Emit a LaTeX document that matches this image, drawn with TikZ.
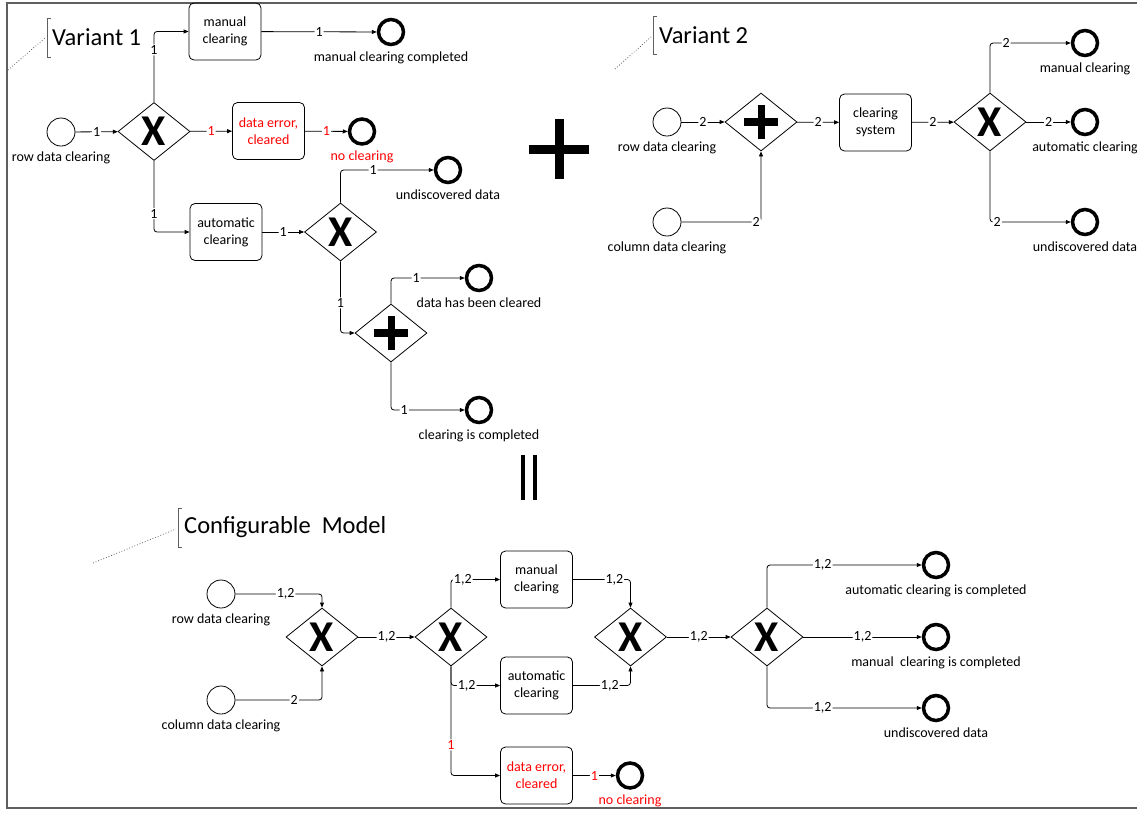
\documentclass[tikz,border=0pt]{standalone}
\usepackage{fontspec}
\setmainfont{Carlito}
\usetikzlibrary{shapes.geometric,arrows.meta}
\newcommand\smallfnt{\fontsize{14}{17}\selectfont}
\newcommand\titlefnt{\fontsize{24.5}{28}\selectfont}
\newcommand\gwfnt{\fontsize{44}{44}\selectfont\bfseries}
\definecolor{errred}{RGB}{255,0,0}
\definecolor{framegray}{RGB}{95,95,95}
\begin{document}
\begin{tikzpicture}[x=1pt,y=-1pt,
  font=\smallfnt,
  task/.style={draw, rounded corners=5pt, minimum width=72pt, minimum height=57pt, align=center, inner sep=1pt, line width=0.8pt},
  errtask/.style={task, text=errred},
  startev/.style={draw, circle, minimum size=28pt, inner sep=0pt, line width=0.8pt},
  endev/.style={draw, circle, minimum size=25pt, inner sep=0pt, line width=3.5pt},
  gw/.style={draw, diamond, minimum width=72pt, minimum height=58pt, inner sep=0pt, line width=0.8pt},
  xgw/.style={gw, label={[font=\gwfnt, inner sep=0pt]center:X}},
  pgw/.style={gw, path picture={
      \draw[line width=8pt] ([xshift=-17pt]path picture bounding box.center) -- ([xshift=17pt]path picture bounding box.center);
      \draw[line width=7pt] ([yshift=-17pt]path picture bounding box.center) -- ([yshift=17pt]path picture bounding box.center);}},
  flow/.style={draw, line width=0.8pt, rounded corners=3pt, -{Triangle[length=5pt,width=4pt]}},
  el/.style={fill=white, inner sep=1pt, font=\smallfnt},
  errel/.style={el, text=errred},
  evlbl/.style={font=\smallfnt, inner sep=0pt, label distance=5pt},
  title/.style={font=\titlefnt, anchor=west, inner sep=0pt},
  brack/.style={draw=framegray, line width=1pt},
  dots/.style={draw=framegray, dotted, line width=0.8pt}
]
\useasboundingbox (0,0) rectangle (1137,812);
\draw[framegray, line width=1.2pt] (1145,3) -- (7,3) -- (7,808) -- (1145,808);

% ---------------- Variant 1 ----------------
\draw[brack] (51,18) -- (47,18) -- (47,57) -- (51,57);
\node[title] (v1title) at (52,37) {Variant 1};
\draw[dots] (8,70) -- (45,38);

\node[startev, label={[evlbl]below:row data clearing}] (a1) at (61,132) {};
\node[xgw] (ag1) at (154,131.5) {};
\node[task] (amc) at (225,31.5) {manual\\clearing};
\node[endev, label={[evlbl]below:manual clearing completed}] (ae1) at (391,32) {};
\node[errtask] (ade) at (268.5,131) {data error,\\cleared};
\node[endev, label={[evlbl, text=errred]below:no clearing}] (ae2) at (362,131.5) {};
\node[task] (aac) at (226,232) {automatic\\clearing};
\node[xgw] (ag2) at (340.5,232) {};
\node[endev, label={[evlbl]below:undiscovered data}] (ae3) at (448,170) {};
\node[pgw] (ag3) at (391,333) {};
\node[endev, label={[evlbl]below:data has been cleared}] (ae4) at (479,278) {};
\node[endev, label={[evlbl]below:clearing is completed}] (ae5) at (479,410) {};

\draw[flow] (a1) -- node[el]{1} (ag1);
\draw[flow] (ag1.north) |- node[el, pos=0.37]{1} (amc.west);
\draw[flow] (amc) -- node[el]{1} (ae1);
\draw[flow] (ag1) -- node[errel]{1} (ade);
\draw[flow] (ade) -- node[errel]{1} (ae2);
\draw[flow] (ag1.south) |- node[el, pos=0.37]{1} (aac.west);
\draw[flow] (aac) -- node[el]{1} (ag2);
\draw[flow] (ag2.north) |- node[el, pos=0.675]{1} (ae3);
\draw[flow] (ag2.south) |- node[el, pos=0.29]{1} (ag3.west);
\draw[flow] (ag3.north) |- node[el, pos=0.67]{1} (ae4);
\draw[flow] (ag3.south) |- node[el, pos=0.59]{1} (ae5);

% big plus and equals bars
\fill (529,144.5) rectangle (589,153.5);
\fill (554.5,119) rectangle (563.5,179);
\fill (521,455) rectangle (525.3,500);
\fill (533,455) rectangle (537.3,500);

% ---------------- Variant 2 ----------------
\draw[brack] (657,16) -- (653,16) -- (653,54) -- (657,54);
\node[title] (v2title) at (659,35) {Variant 2};
\draw[dots] (615,69) -- (651,37);

\node[startev, label={[evlbl]below:row data clearing}] (b1) at (667,122) {};
\node[startev, label={[evlbl]below:column data clearing}] (b2) at (667,222) {};
\node[pgw] (bg1) at (761,122) {};
\node[task] (bcs) at (875.5,122.5) {clearing\\system};
\node[xgw] (bg2) at (990,122) {};
\node[endev, label={[evlbl]below:manual clearing}] (be1) at (1085,43) {};
\node[endev, label={[evlbl]below:automatic clearing}] (be2) at (1085,122) {};
\node[endev, label={[evlbl]below:undiscovered data}] (be3) at (1085,222) {};

\draw[flow] (b1) -- node[el]{2} (bg1);
\draw[flow] (b2) -| node[el, pos=0.47]{2} (bg1.south);
\draw[flow] (bg1) -- node[el]{2} (bcs);
\draw[flow] (bcs) -- node[el]{2} (bg2);
\draw[flow] (bg2.north) |- node[el, pos=0.6]{2} (be1);
\draw[flow] (bg2) -- node[el]{2} (be2);
\draw[flow] (bg2.south) |- node[el, pos=0.545]{2} (be3);

% ---------------- Configurable Model ----------------
\draw[brack] (182,508) -- (178,508) -- (178,547) -- (182,547);
\node[title] (cmtitle) at (184,527) {Configurable~ Model};
\draw[dots] (93,563) -- (176,529);

\node[startev, label={[evlbl]below:row data clearing}] (c1) at (221,594) {};
\node[startev, label={[evlbl]below:column data clearing}] (c2) at (221,700) {};
\node[xgw] (cg1) at (322,637) {};
\node[xgw] (cg2) at (451,637) {};
\node[task] (cmc) at (536.5,579.5) {manual\\clearing};
\node[task] (cac) at (536.5,685.5) {automatic\\clearing};
\node[errtask] (cde) at (536.5,775.5) {data error,\\cleared};
\node[endev, label={[evlbl, text=errred]below:no clearing}] (ce0) at (630,775.5) {};
\node[xgw] (cg3) at (630.5,637) {};
\node[xgw] (cg4) at (767,637) {};
\node[endev, label={[evlbl]below:automatic clearing is completed}] (ce1) at (936,565) {};
\node[endev, label={[evlbl]below:manual~ clearing is completed}] (ce2) at (936,637) {};
\node[endev, label={[evlbl]below:undiscovered data}] (ce3) at (936,708) {};

\draw[flow] (c1) -| node[el, pos=0.29]{1,2} (cg1.north);
\draw[flow] (c2) -| node[el, pos=0.34]{2} (cg1.south);
\draw[flow] (cg1) -- node[el]{1,2} (cg2);
\draw[flow] (cg2.north) |- node[el, pos=0.62]{1,2} (cmc.west);
\draw[flow] (cg2.south) |- node[errel, pos=0.36]{1} (cde.west);
\draw[flow] (cg2.south) |- node[el, pos=0.66]{1,2} (cac.west);
\draw[flow] (cde) -- node[errel]{1} (ce0);
\draw[flow] (cmc.east) -| node[el, pos=0.36]{1,2} (cg3.north);
\draw[flow] (cac.east) -| node[el, pos=0.32]{1,2} (cg3.south);
\draw[flow] (cg3) -- node[el]{1,2} (cg4);
\draw[flow] (cg4.north) |- node[el, pos=0.68]{1,2} (ce1);
\draw[flow] (cg4) -- node[el]{1,2} (ce2);
\draw[flow] (cg4.south) |- node[el, pos=0.68]{1,2} (ce3);
\end{tikzpicture}
\end{document}
